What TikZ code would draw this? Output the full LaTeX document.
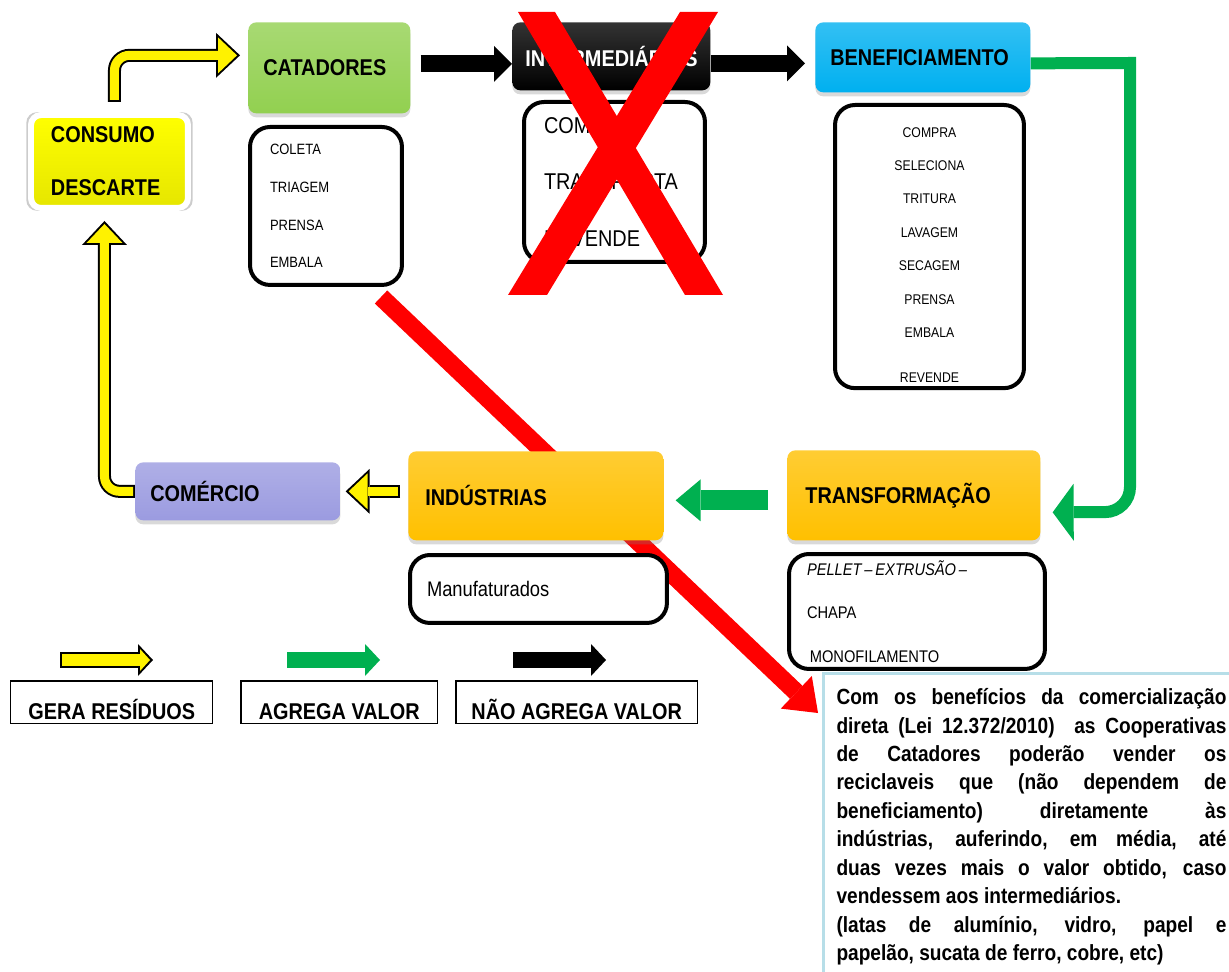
\documentclass[tikz,border=0pt]{standalone}
\usepackage{fontspec}
\setmainfont{Liberation Sans}[FakeStretch=0.87]
\usetikzlibrary{arrows.meta,shadows,backgrounds}

\definecolor{catgreen}{HTML}{92D050}
\definecolor{benblue}{HTML}{00B0F0}
\definecolor{indorange}{HTML}{FFC000}
\definecolor{comlilac}{HTML}{9B9BE0}
\definecolor{arrgreen}{HTML}{00B050}
\definecolor{noteblue}{HTML}{B7DEE8}

\newcommand{\hdrfont}{\fontsize{13}{15}\selectfont\bfseries}
\newcommand{\notefont}{\fontsize{12.5}{16.2}\selectfont\bfseries
  \tolerance=10000\relax\hbadness=10000\relax\hyphenpenalty=10000\relax}
\newcommand{\yelarrow}[1]{\draw[ybody] #1; \draw[yfill] #1;}

\tikzset{
  hdr/.style={anchor=north west, rounded corners=0.16cm, align=left, inner xsep=0.3cm, font=\hdrfont,
    top color=#1!80!white, bottom color=#1,
    drop shadow={opacity=0.3, shadow xshift=0pt, shadow yshift=-0.08cm}},
  consbox/.style={anchor=north west, rounded corners=0.2cm, align=left, inner xsep=0.4cm, font=\hdrfont,
    draw=white, line width=0.12cm, top color=yellow, bottom color=yellow!90!black,
    drop shadow={opacity=0.4, shadow xshift=0pt, shadow yshift=0pt, shadow scale=1.06}},
  listbox/.style={anchor=north west, draw=black, line width=0.08cm, rounded corners=0.4cm,
    fill=white, align=left, inner xsep=0.4cm},
  legbox/.style={anchor=north west, draw=black, line width=0.03cm, minimum height=0.86cm,
    inner xsep=0.24cm, inner ysep=0.06cm, text height=0.7cm, text depth=0pt, font=\hdrfont},
  notebox/.style={anchor=north west, draw=noteblue, line width=0.06cm, fill=white, text width=7.8cm,
    inner xsep=0.26cm, inner ysep=0.3cm, align=justify, font=\notefont},
  blkarrow/.style={draw=black, line width=0.34cm, -{Triangle[length=0.36cm,width=0.72cm,line width=0pt]}},
  grnarrow/.style={draw=arrgreen, line width=0.4cm, -{Triangle[length=0.5cm,width=0.84cm,line width=0pt]}},
  grnline/.style={draw=arrgreen, line width=0.24cm, -{Triangle[length=0.42cm,width=1.14cm,line width=0pt]}},
  redarrow/.style={draw=red, line width=0.36cm, -{Triangle[length=0.6cm,width=0.9cm,line width=0pt]}},
  ybody/.style={draw=black, line width=0.26cm, rounded corners=0.3cm,
    -{Triangle[length=0.48cm,width=0.9cm,line width=0pt]}},
  yfill/.style={draw=yellow, line width=0.18cm, rounded corners=0.3cm, shorten >=0.06cm, shorten <=0.04cm,
    -{Triangle[length=0.38cm,width=0.72cm,line width=0pt]}},
  legarrow/.style={draw=#1, line width=0.32cm, -{Triangle[length=0.3cm,width=0.64cm,line width=0pt]}}
}

\begin{document}
\begin{tikzpicture}[x=0.02cm, y=-0.02cm]
\useasboundingbox (0,0) rectangle (1229,972);

\node[consbox, minimum width=3.14cm, minimum height=1.86cm, text width=2.34cm] (cons) at (28,112) {CONSUMO\\[15pt]DESCARTE};
\node[hdr=catgreen, minimum width=3.24cm, minimum height=1.82cm, text width=2.64cm] (cat) at (248,22) {CATADORES};
\node[hdr=black, text=white, minimum width=3.96cm, minimum height=1.36cm, text width=3.44cm, inner xsep=0.26cm] (int) at (512,22) {INTERMEDIÁRIOS};
\node[hdr=benblue, minimum width=4.3cm, minimum height=1.4cm, text width=3.7cm] (ben) at (815,22) {BENEFICIAMENTO};
\node[hdr=indorange, minimum width=5.06cm, minimum height=1.8cm, text width=4.34cm, inner xsep=0.36cm] (trans) at (787,450) {TRANSFORMAÇÃO};
\node[hdr=indorange, minimum width=5.1cm, minimum height=1.78cm, text width=4.42cm, inner xsep=0.34cm] (ind) at (408,451) {INDÚSTRIAS};
\node[hdr=comlilac, minimum width=4.1cm, minimum height=1.16cm, text width=3.5cm] (com) at (135,462) {COMÉRCIO};

\node[listbox, minimum width=3.04cm, minimum height=3.16cm, text width=2.24cm, font=\fontsize{8.5}{21.5}\selectfont] (catl) at (248,125) {COLETA\\TRIAGEM\\PRENSA\\EMBALA};
\node[listbox, minimum width=3.62cm, minimum height=3.2cm, text width=2.82cm, font=\fontsize{13}{32}\selectfont] (intl) at (522,100) {COMPRA\\TRANSPORTA\\REVENDE};
\node[listbox, align=center, minimum width=3.78cm, minimum height=5.64cm, text width=2.98cm, font=\fontsize{8}{19}\selectfont] (benl) at (833,103) {\rule{0pt}{15pt}COMPRA\\SELECIONA\\TRITURA\\LAVAGEM\\SECAGEM\\PRENSA\\EMBALA\\[6.5pt]REVENDE};
\node[listbox, minimum width=5.12cm, minimum height=2.3cm, text width=4.4cm, inner xsep=0.36cm, font=\fontsize{9.6}{24.7}\selectfont] (transl) at (787,552) {\textit{PELLET\,–\,EXTRUSÃO\,–}\\CHAPA\\\,MONOFILAMENTO};
\node[listbox, minimum width=5.14cm, minimum height=1.36cm, text width=4.46cm, inner xsep=0.34cm, font=\fontsize{12}{14}\selectfont] (manl) at (408,553) {Manufaturados};

\node[legbox, minimum width=4.04cm] (leg1) at (10,680) {GERA RESÍDUOS};
\node[legbox, minimum width=3.94cm] (leg2) at (240,680) {AGREGA VALOR};
\node[legbox, minimum width=4.84cm] (leg3) at (455,680) {NÃO AGREGA VALOR};

\node[notebox] (note) at (822,672) {Com os benefícios da comercialização\linebreak
direta (Lei 12.372/2010)~ as Cooperativas\linebreak
de Catadores poderão vender os\linebreak
reciclaveis que (não dependem de\linebreak
beneficiamento) diretamente às\linebreak
indústrias, auferindo, em média, até\linebreak
duas vezes mais o valor obtido, caso\linebreak
vendessem aos intermediários.\\
(latas de alumínio, vidro, papel e\linebreak
papelão, sucata de ferro, cobre, etc)};

\coordinate (rd0) at (381,297);
\coordinate (rd1) at (818,713);
\coordinate (gc1) at (1130,63);
\coordinate (gc2) at (1130,512);
\coordinate (ly0) at (60,660);
\coordinate (ly1) at (153,660);
\coordinate (lg0) at (287,660);
\coordinate (lg1) at (380,660);
\coordinate (lk0) at (513,660);
\coordinate (lk1) at (606,660);

\begin{scope}[on background layer]
  \draw[redarrow] (rd0) -- (rd1);
  \draw[blkarrow] ([xshift=0.2cm,yshift=0.08cm]cat.east) -- ([yshift=0.08cm]cat.east -| int.west);
  \draw[blkarrow] ([yshift=-0.14cm]int.east) -- ([xshift=-0.2cm,yshift=-0.14cm]int.east -| ben.west);
  \draw[grnline] ([yshift=-0.12cm]ben.east) -- (gc1) [rounded corners=0.5cm] -- (gc2) -- ([shift={(0.24cm,-0.34cm)}]trans.east);
  \draw[grnarrow] ([xshift=-0.38cm,yshift=-0.1cm]trans.west) -- ([xshift=0.24cm,yshift=-0.1cm]trans.west -| ind.east);
  \yelarrow{([xshift=-0.16cm]ind.west |- com.east) -- ([xshift=0.1cm]com.east)}
  \yelarrow{(com.west) -| ([shift={(-0.1cm,-0.2cm)}]cons.south)}
  \yelarrow{([shift={(0.1cm,0.2cm)}]cons.north) |- ([shift={(-0.16cm,0.25cm)}]cat.west)}
  \draw[ybody, line width=0.32cm, -{Triangle[length=0.3cm,width=0.64cm,line width=0pt]}] (ly0) -- (ly1);
  \draw[yfill, line width=0.24cm, -{Triangle[length=0.2cm,width=0.44cm,line width=0pt]}] (ly0) -- (ly1);
  \draw[legarrow=arrgreen] (lg0) -- (lg1);
  \draw[legarrow=black] (lk0) -- (lk1);
\end{scope}

\fill[red] (518,12) -- (555,12) -- (723,295) -- (685,295) -- cycle;
\fill[red] (680,12) -- (718,12) -- (547,295) -- (508,295) -- cycle;
\end{tikzpicture}
\end{document}
